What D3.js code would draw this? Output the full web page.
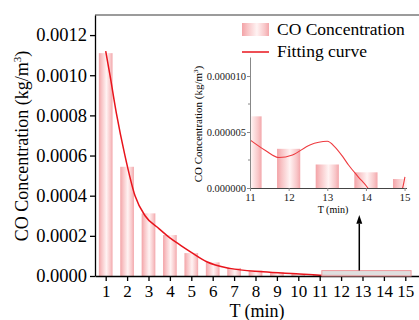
<!DOCTYPE html>
<html>
<head>
  <meta charset="utf-8">
  <title>CO concentration</title>
  <style type="text/css">
    body { margin: 0; background: #fff; }
    svg text { font-family: "Liberation Serif", "Times New Roman", "DejaVu Serif", serif; }
    .axis path, .axis line { stroke: #000; stroke-width: 1.3; }
    .axis text { fill: #000; }
    .inset path, .inset line { stroke: #888; stroke-width: 1; }
    .inset text { fill: #222; }
  </style>
  <script src="https://d3js.org/d3.v7.min.js"></script>
</head>
<body>
<script>
// bar data, one value per minute
var minutes = [1, 2, 3, 4, 5, 6, 7, 8, 9, 10, 11, 12, 13, 14, 15];
var conc = [0.00111, 0.000544, 0.000312, 0.000204, 0.000114, 0.000068, 0.000040,
            0.000027, 0.000018, 0.000010, 0.0000064, 0.0000035, 0.0000021, 0.0000014, 0.0000008];

// fitting curve
var fitT = [1, 1.2, 1.5, 1.9, 2.37, 2.84, 3.5, 4, 4.5, 5, 5.72, 6.8, 8.35, 9.9, 11, 12, 13, 14, 15];
var fitV = [0.00112, 0.0010, 0.00081, 0.0006, 0.0004, 0.0003, 0.000235, 0.00019, 0.000153,
            0.000118, 0.000071, 0.000038, 0.000021, 0.000011, 0.000004, 0.000002, 0.000001, 0.0000005, 0.0000002];

// fitting curve inside the zoomed inset
var insetT = [11, 11.4, 11.75, 12.1, 12.55, 13, 13.2, 13.4, 13.55, 13.8, 14.05, 14.5, 14.95, 15.01];
var insetV = [4.3e-6, 3.35e-6, 2.72e-6, 2.95e-6, 3.85e-6, 4.17e-6, 3.66e-6, 2.8e-6, 2.05e-6,
              1.0e-6, 0, -3e-6, 0, 1.0e-6];

var yTicks = [0, 0.0002, 0.0004, 0.0006, 0.0008, 0.0010, 0.0012];
var insetYTicks = [0, 0.000005, 0.000010];
var zoomBox = {t0: 11.1, t1: 15.27, v: 0.000027};

var W = 419, H = 320;
var svg = d3.select("body").append("svg").attr("width", W).attr("height", H);

var defs = svg.append("defs");
var grad = defs.append("linearGradient").attr("id", "barGrad")
  .attr("x1", "0%").attr("x2", "100%").attr("y1", "0%").attr("y2", "0%");
[[0, "#f3a3a7"], [0.2, "#f8c3c5"], [0.55, "#fff3f3"], [0.85, "#f8c6c8"], [1, "#f3a7ab"]].forEach(function(s) {
  grad.append("stop").attr("offset", s[0]).attr("stop-color", s[1]);
});

var x = d3.scaleLinear().domain([0.5, 15.65]).range([95, 419.2]);
var y = d3.scaleLinear().domain([0, 0.0013]).range([276, 15]);
var barW = x(0.64) - x(0);

// frame top line
svg.append("line")
  .attr("x1", x(0.5)).attr("x2", W).attr("y1", y(0.0013)).attr("y2", y(0.0013))
  .attr("stroke", "#7a7a7a").attr("stroke-width", 1.4);

// bars
svg.append("g").selectAll("rect")
  .data(minutes)
  .enter().append("rect")
    .attr("x", function(d) { return x(d) - barW / 2; })
    .attr("y", function(d, i) { return y(conc[i]); })
    .attr("width", barW)
    .attr("height", function(d, i) { return y(0) - y(conc[i]); })
    .attr("fill", "url(#barGrad)");

// fitting curve
var fitLine = d3.line()
  .x(function(d) { return x(d[0]); })
  .y(function(d) { return y(d[1]); })
  .curve(d3.curveMonotoneX);
svg.append("path")
  .datum(fitT.map(function(t, i) { return [t, fitV[i]]; }))
  .attr("d", fitLine)
  .attr("fill", "none").attr("stroke", "#e8141c").attr("stroke-width", 1.5);

// axes
var yAxis = d3.axisLeft(y).tickValues(yTicks).tickFormat(d3.format(".4f"))
  .tickSize(5).tickPadding(3).tickSizeOuter(0);
svg.append("g").attr("class", "axis")
  .attr("transform", "translate(" + x(0.5) + ",0)")
  .call(yAxis)
  .selectAll("text").style("font-size", "18.5px");

var xAxis = d3.axisBottom(x).tickValues(minutes).tickFormat(d3.format("d"))
  .tickSize(5).tickPadding(4).tickSizeOuter(0);
svg.append("g").attr("class", "axis")
  .attr("transform", "translate(0," + y(0) + ")")
  .call(xAxis)
  .selectAll("text").style("font-size", "17px");

// zoom box and arrow
svg.append("rect")
  .attr("x", x(zoomBox.t0)).attr("y", y(zoomBox.v))
  .attr("width", x(zoomBox.t1) - x(zoomBox.t0))
  .attr("height", y(0) - y(zoomBox.v))
  .attr("fill", "#d9d9d9").attr("fill-opacity", 0.85)
  .attr("stroke", "#f09a9e").attr("stroke-width", 1);

svg.append("path")
  .datum([[12.85, 0.0000275], [12.85, 0.00026]])
  .attr("d", d3.line().x(function(d) { return x(d[0]); }).y(function(d) { return y(d[1]); }))
  .attr("stroke", "#000").attr("stroke-width", 1.5);
svg.append("path")
  .attr("d", d3.line()([[x(12.85), y(0.000304)], [x(12.85) - 3, y(0.00026)], [x(12.85) + 3, y(0.00026)]]) + "Z")
  .attr("fill", "#000");

// axis titles
svg.append("text")
  .attr("transform", "translate(28," + 146 + ") rotate(-90)")
  .attr("text-anchor", "middle")
  .style("font-size", "18px")
  .html('CO Concentration (kg/m<tspan dy="-7" style="font-size:11px">3</tspan><tspan dy="7">)</tspan>');

svg.append("text")
  .attr("x", 257).attr("y", 317)
  .attr("text-anchor", "middle")
  .style("font-size", "18px")
  .text("T (min)");

// legend
var leg = svg.append("g");
leg.append("rect").attr("x", 242).attr("y", 23).attr("width", 27).attr("height", 13)
  .attr("fill", "url(#barGrad)");
leg.append("text").attr("x", 277).attr("y", 34.5).style("font-size", "17.5px").text("CO Concentration");
leg.append("line").attr("x1", 242).attr("x2", 269).attr("y1", 52).attr("y2", 52)
  .attr("stroke", "#e8141c").attr("stroke-width", 1.5);
leg.append("text").attr("x", 277).attr("y", 57).style("font-size", "17.5px").text("Fitting curve");

// inset
var xi = d3.scaleLinear().domain([11, 15.05]).range([250, 406.5]);
var yi = d3.scaleLinear().domain([0, 0.0000117]).range([188, 57]);
var barWi = xi(0.6) - xi(0);

defs.append("clipPath").attr("id", "insetClip")
  .append("rect")
  .attr("x", xi(11)).attr("y", yi(0.0000117))
  .attr("width", xi(15.05) - xi(11)).attr("height", yi(0) - yi(0.0000117));

var inset = svg.append("g");
inset.append("g").attr("clip-path", "url(#insetClip)")
  .selectAll("rect")
  .data(minutes.slice(10))
  .enter().append("rect")
    .attr("x", function(d) { return xi(d) - barWi / 2; })
    .attr("y", function(d, i) { return yi(conc[i + 10]); })
    .attr("width", barWi)
    .attr("height", function(d, i) { return yi(0) - yi(conc[i + 10]); })
    .attr("fill", "url(#barGrad)");

inset.append("path")
  .attr("clip-path", "url(#insetClip)")
  .datum(insetT.map(function(t, i) { return [t, insetV[i]]; }))
  .attr("d", d3.line()
    .x(function(d) { return xi(d[0]); })
    .y(function(d) { return yi(d[1]); })
    .curve(d3.curveMonotoneX))
  .attr("fill", "none").attr("stroke", "#ee3a3f").attr("stroke-width", 1.1);

var yiAxis = d3.axisLeft(yi).tickValues(insetYTicks).tickFormat(d3.format(".6f"))
  .tickSize(3).tickPadding(1).tickSizeOuter(0);
var gyi = inset.append("g").attr("class", "inset")
  .attr("transform", "translate(" + xi(11) + ",0)")
  .call(yiAxis);
gyi.selectAll("text").style("font-size", "10.5px");
gyi.selectAll(".minor")
  .data([0.0000025, 0.0000075])
  .enter().append("line")
    .attr("x1", -2).attr("x2", 0)
    .attr("y1", function(d) { return yi(d); }).attr("y2", function(d) { return yi(d); });

var xiAxis = d3.axisBottom(xi).tickValues(minutes.slice(10)).tickFormat(d3.format("d"))
  .tickSize(3).tickPadding(2).tickSizeOuter(0);
var gxi = inset.append("g").attr("class", "inset")
  .attr("transform", "translate(0," + yi(0) + ")")
  .call(xiAxis);
gxi.select("path").style("stroke", "#444");
gxi.selectAll("text").style("font-size", "11px");

inset.append("text")
  .attr("transform", "translate(201.5," + 124 + ") rotate(-90)")
  .attr("text-anchor", "middle")
  .style("font-size", "11px")
  .html('CO Concentration (kg/m<tspan dy="-4" style="font-size:7px">3</tspan><tspan dy="4">)</tspan>');

inset.append("text")
  .attr("x", 333).attr("y", 212.5)
  .attr("text-anchor", "middle")
  .style("font-size", "10px")
  .text("T (min)");
</script>
</body>
</html>
